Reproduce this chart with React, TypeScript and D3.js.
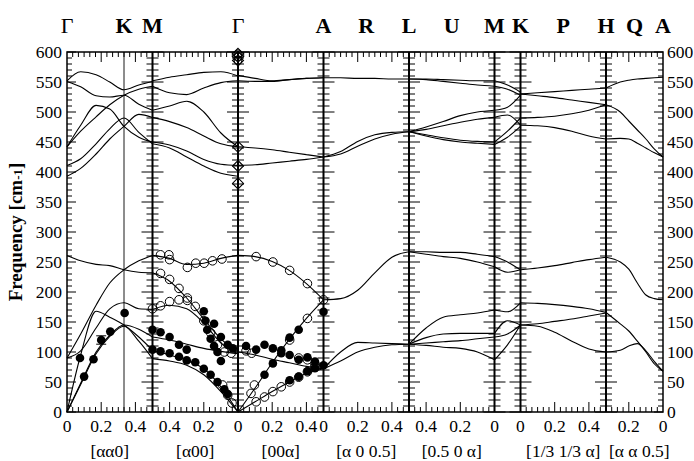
import React from "react";
import * as d3 from "d3";

const W = 694, H = 461;
const LEFT = 67, RIGHT = 663, TOP = 52, BOTTOM = 412;
const FONT = "Liberation Serif";

// path segments: span in axis units, alpha at left and right edge
const panelSpan = [0.5, 0.5, 0.5, 0.5, 0.5, 0.152, 0.5, 1 / 3];
const panelFrom = [0, 0.5, 0, 0, 0.5, 0, 0, 1 / 3];
const panelTo = [0.5, 0, 0.5, 0.5, 0, 1, 0.5, 0];

// high-symmetry labels (panel, alpha)
const symLabels = ["Γ", "K", "M", "Γ", "A", "R", "L", "U", "M", "K", "P", "H", "Q", "A"];
const symPos = [[0, 0], [0, 1 / 3], [1, 0.5], [2, 0], [3, 0], [3, 0.25], [4, 0.5], [4, 0.25], [5, 0], [6, 0], [6, 0.25], [7, 1 / 3], [7, 1 / 6], [7, 0]];

const qTickLabels = ["0", "0.2", "0.4", "0.4", "0.2", "0", "0.2", "0.4", "0", "0.2", "0.4", "0.4", "0.2", "0", "0", "0.2", "0.4", "0.2", "0"];
const qTickPos = [[0, 0], [0, 0.2], [0, 0.4], [1, 0.4], [1, 0.2], [1, 0], [2, 0.2], [2, 0.4], [3, 0], [3, 0.2], [3, 0.4], [4, 0.4], [4, 0.2], [4, 0], [6, 0], [6, 0.2], [6, 0.4], [7, 0.2], [7, 0]];

const dirLabels = ["[αα0]", "[α00]", "[00α]", "[α 0 0.5]", "[0.5 0 α]", "[1/3 1/3 α]", "[α α 0.5]"];
const dirPanels = [0, 1, 2, 3, 4, 6, 7];

const freqTicks = d3.range(0, 601, 50);

// calculated dispersion, frequency [cm-1] at grid points of each panel
const gkmGrid = [0, 0.08, 0.17, 0.25, 1 / 3, 0.42, 0.5];
const gkmBranches = [
  [552, 567, 562, 550, 537, 545, 551],
  [551, 542, 527, 525, 528, 513, 503],
  [442, 468, 492, 512, 528, 538, 543],
  [442, 478, 511, 505, 476, 458, 450],
  [411, 422, 447, 472, 490, 466, 447],
  [393, 406, 430, 455, 476, 496, 491],
  [261, 252, 246, 244, 237, 233, 232],
  [90, 130, 178, 215, 237, 252, 261],
  [90, 102, 140, 172, 182, 172, 171],
  [0, 95, 168, 158, 145, 125, 103],
  [0, 48, 100, 128, 145, 138, 125],
  [0, 46, 97, 126, 143, 118, 89],
];

const mgGrid = [0.5, 0.4, 0.3, 0.2, 0.1, 0];
const mgBranches = [
  [552, 558, 562, 566, 567, 560],
  [543, 532, 529, 540, 549, 552],
  [503, 510, 518, 500, 465, 442],
  [491, 484, 474, 460, 447, 442],
  [450, 445, 435, 421, 413, 411],
  [447, 440, 425, 410, 398, 393],
  [261, 256, 246, 248, 256, 261],
  [232, 218, 190, 155, 122, 100],
  [171, 178, 172, 148, 115, 97],
  [125, 120, 113, 106, 101, 97],
  [103, 95, 86, 72, 42, 0],
  [89, 85, 78, 62, 34, 0],
];

const gaGrid = [0, 0.1, 0.2, 0.3, 0.4, 0.5];
const gaBranches = [
  [561, 556, 552, 554, 556, 557],
  [552, 551, 551, 554, 556, 557],
  [442, 440, 437, 433, 429, 425],
  [411, 412, 415, 418, 421, 425],
  [261, 259, 251, 236, 214, 187],
  [0, 40, 82, 121, 156, 187],
  [100, 95, 88, 82, 76, 72],
  [0, 17, 34, 50, 64, 72],
];

const alGrid = [0, 0.1, 0.2, 0.3, 0.4, 0.5];
const alBranches = [
  [557, 557, 556, 556, 555, 555],
  [425, 434, 451, 462, 466, 467],
  [425, 430, 443, 455, 463, 467],
  [187, 189, 203, 232, 258, 267],
  [72, 100, 116, 115, 114, 113],
  [72, 85, 100, 108, 112, 113],
];

const lmGrid = [0.5, 0.4, 0.3, 0.2, 0.1, 0];
const lmBranches = [
  [555, 555, 554, 553, 552, 552],
  [555, 554, 551, 548, 545, 543],
  [467, 475, 484, 494, 500, 503],
  [467, 471, 477, 483, 488, 491],
  [467, 462, 457, 453, 451, 450],
  [467, 460, 454, 450, 448, 446],
  [267, 267, 266, 266, 263, 259],
  [267, 263, 259, 256, 250, 242],
  [113, 140, 158, 162, 165, 170],
  [113, 124, 130, 131, 131, 131],
  [113, 115, 117, 119, 122, 125],
  [113, 111, 108, 106, 100, 87],
];

const mkGrid = [0, 0.5, 1];
const mkBranches = [
  [552, 545, 533],
  [543, 538, 528],
  [503, 508, 528],
  [491, 495, 478],
  [450, 468, 490],
  [446, 458, 476],
  [259, 250, 237],
  [242, 233, 237],
  [170, 167, 182],
  [131, 152, 145],
  [125, 130, 145],
  [87, 112, 145],
];

const khGrid = [0, 0.1, 0.2, 0.3, 0.4, 0.5];
const khBranches = [
  [530, 532, 534, 536, 538, 540],
  [530, 527, 524, 520, 516, 512],
  [490, 491, 493, 497, 503, 512],
  [478, 477, 474, 468, 460, 455],
  [237, 240, 244, 249, 254, 258],
  [182, 181, 179, 176, 172, 166],
  [145, 147, 151, 155, 160, 165],
  [145, 143, 133, 118, 105, 100],
];

const haGrid = [1 / 3, 0.25, 0.2, 0.15, 0.1, 0.05, 0];
const haBranches = [
  [540, 550, 553, 555, 556, 557, 558],
  [512, 500, 485, 470, 455, 438, 425],
  [455, 456, 455, 448, 440, 432, 425],
  [258, 250, 238, 215, 195, 189, 187],
  [166, 147, 135, 118, 100, 80, 68],
  [100, 103, 110, 114, 102, 84, 68],
];

const panelGrids = [gkmGrid, mgGrid, gaGrid, alGrid, lmGrid, mkGrid, khGrid, haGrid];
const panelBranches = [gkmBranches, mgBranches, gaBranches, alBranches, lmBranches, mkBranches, khBranches, haBranches];

// measured points [alpha, freq]
const filledGKM = [[0.076, 90], [0.1, 59], [0.155, 88], [0.2, 120], [0.253, 134], [0.337, 165]];
const errorGKM = [[0.2, 120, 7]];
const filledMG = [
  [0.5, 137], [0.453, 133], [0.4, 125], [0.345, 112], [0.3, 104],
  [0.5, 104], [0.453, 101], [0.4, 98], [0.345, 92], [0.3, 86], [0.25, 83],
  [0.2, 168], [0.19, 152], [0.18, 137], [0.16, 122], [0.14, 110], [0.12, 100], [0.1, 85],
  [0.14, 147], [0.1, 125], [0.06, 112], [0.03, 106],
  [0.2, 72], [0.16, 62], [0.12, 50], [0.08, 38], [0.06, 30],
];
const openMG = [
  [0.453, 262], [0.404, 262], [0.4, 254], [0.296, 241], [0.247, 248], [0.198, 248], [0.149, 252], [0.094, 255],
  [0.453, 231], [0.4, 221], [0.345, 206], [0.296, 190], [0.25, 176],
  [0.5, 172], [0.453, 177], [0.4, 184], [0.345, 187], [0.296, 186], [0.2, 152], [0.16, 132], [0.12, 112], [0.08, 100], [0.04, 98],
  [0.09, 45], [0.06, 28], [0.035, 15],
];
const filledGA = [
  [0.155, 62], [0.204, 81], [0.253, 103], [0.302, 124], [0.355, 137], [0.5, 167],
  [0.302, 53], [0.355, 59], [0.406, 68], [0.45, 73], [0.45, 84], [0.5, 78],
  [0.047, 110], [0.106, 104], [0.155, 112], [0.204, 106], [0.253, 98], [0.302, 95], [0.355, 87], [0.406, 91],
];
const openGA = [
  [0.106, 259], [0.204, 250], [0.302, 236], [0.406, 214], [0.5, 187],
  [0.076, 31], [0.096, 45], [0.302, 120], [0.406, 156],
  [0.106, 17], [0.155, 25], [0.204, 34], [0.253, 42], [0.302, 50], [0.355, 58], [0.406, 67], [0.45, 75],
  [0.047, 102], [0.08, 98], [0.355, 90], [0.406, 87], [0.45, 80],
];
const gammaModes = [597, 592, 586, 442, 410, 381];

const cum = [0];
panelSpan.forEach((s, i) => cum.push(cum[i] + s));
const x = d3.scaleLinear().domain([0, cum[cum.length - 1]]).range([LEFT, RIGHT]);
const y = d3.scaleLinear().domain([0, 600]).range([BOTTOM, TOP]);
const px = (p: number, a: number) =>
  x(cum[p] + (panelSpan[p] * (a - panelFrom[p])) / (panelTo[p] - panelFrom[p]));

const line = d3.line<[number, number]>().curve(d3.curveMonotoneX);

export default function App() {
  const curves: string[] = [];
  panelBranches.forEach((branches, p) => {
    branches.forEach((vals) => {
      const pts = vals.map((f, i) => [px(p, panelGrids[p][i]), y(f)] as [number, number]);
      curves.push(line(pts) as string);
    });
  });

  // q ticks on top and bottom
  const qTicks: { x: number; major: boolean }[] = [];
  [0, 1, 2, 3, 4, 6, 7].forEach((p) => {
    const lo = Math.min(panelFrom[p], panelTo[p]);
    const hi = Math.max(panelFrom[p], panelTo[p]);
    for (let k = 1; k * (0.2 / 6) < hi - 1e-6; k++) {
      const a = k * (0.2 / 6);
      if (a <= lo + 1e-6) continue;
      qTicks.push({ x: px(p, a), major: k % 6 === 0 });
    }
  });
  const yMinor = d3.range(0, 601, 10);
  const innerBounds = [1, 2, 3, 4, 5, 6, 7].map((p) => x(cum[p]));

  const pts = (p: number, arr: number[][]) => arr.map(([a, f]) => [px(p, a), y(f)]);
  const filled = [...pts(0, filledGKM), ...pts(1, filledMG), ...pts(2, filledGA)];
  const open = [...pts(1, openMG), ...pts(2, openGA)];
  const gx = x(cum[2]);

  return (
    <svg width={W} height={H} style={{ position: "absolute", left: 0, top: 0, background: "#fff" }}>
      {/* K vertical guide */}
      <line x1={px(0, 1 / 3)} x2={px(0, 1 / 3)} y1={TOP} y2={BOTTOM} stroke="#000" strokeWidth={0.9} />
      {/* inner boundaries with ticks on both sides */}
      {innerBounds.map((bx, i) => (
        <g key={"b" + i}>
          <line x1={bx} x2={bx} y1={TOP} y2={BOTTOM} stroke="#000" strokeWidth={2} />
          {yMinor.map((f) => {
            const len = f % 50 === 0 ? 11 : 6;
            return <line key={f} x1={bx - len} x2={bx + len} y1={y(f)} y2={y(f)} stroke="#000" strokeWidth={1} />;
          })}
        </g>
      ))}
      {/* left and right axis ticks */}
      {yMinor.map((f) => {
        const len = f % 50 === 0 ? 9 : 5;
        return (
          <g key={"y" + f}>
            <line x1={LEFT} x2={LEFT + len} y1={y(f)} y2={y(f)} stroke="#000" strokeWidth={1} />
            <line x1={RIGHT - len} x2={RIGHT} y1={y(f)} y2={y(f)} stroke="#000" strokeWidth={1} />
          </g>
        );
      })}
      {qTicks.map((t, i) => {
        const len = t.major ? 10 : 5;
        return (
          <g key={"q" + i}>
            <line x1={t.x} x2={t.x} y1={TOP} y2={TOP + len} stroke="#000" strokeWidth={1} />
            <line x1={t.x} x2={t.x} y1={BOTTOM - len} y2={BOTTOM} stroke="#000" strokeWidth={1} />
          </g>
        );
      })}
      <rect x={LEFT} y={TOP} width={RIGHT - LEFT} height={BOTTOM - TOP} fill="none" stroke="#000" strokeWidth={1.5} />

      {/* dispersion curves */}
      {curves.map((d, i) => (
        <path key={"c" + i} d={d} fill="none" stroke="#000" strokeWidth={1.1} />
      ))}

      {/* measured points */}
      {errorGKM.map(([a, f, e], i) => {
        const cx = px(0, a);
        return (
          <g key={"e" + i} stroke="#000" strokeWidth={1}>
            <line x1={cx} x2={cx} y1={y(f - e)} y2={y(f + e)} />
            <line x1={cx - 5} x2={cx + 5} y1={y(f - e)} y2={y(f - e)} />
            <line x1={cx - 5} x2={cx + 5} y1={y(f + e)} y2={y(f + e)} />
          </g>
        );
      })}
      {open.map(([cx, cy], i) => (
        <circle key={"o" + i} cx={cx} cy={cy} r={4.3} fill="none" stroke="#000" strokeWidth={1} />
      ))}
      {filled.map(([cx, cy], i) => (
        <circle key={"f" + i} cx={cx} cy={cy} r={4.3} fill="#000" />
      ))}
      {gammaModes.map((f, i) => {
        const cy = y(f);
        return (
          <g key={"g" + i} fill="none" stroke="#000" strokeWidth={1.1}>
            <path d={`M${gx},${cy - 5.5}L${gx + 5.5},${cy}L${gx},${cy + 5.5}L${gx - 5.5},${cy}Z`} />
            {f > 580 && <circle cx={gx} cy={cy} r={3.8} />}
          </g>
        );
      })}

      {/* y labels */}
      {freqTicks.map((f) => (
        <g key={"yl" + f}>
          <text x={LEFT - 5} y={y(f)} dy="0.35em" textAnchor="end" fontFamily={FONT} fontSize={17.5}>{f}</text>
          <text x={RIGHT + 4} y={y(f)} dy="0.35em" textAnchor="start" fontFamily={FONT} fontSize={17.5}>{f}</text>
        </g>
      ))}
      {/* q labels */}
      {qTickLabels.map((t, i) => (
        <text key={"ql" + i} x={px(qTickPos[i][0], qTickPos[i][1])} y={432} textAnchor="middle" fontFamily={FONT} fontSize={17.5}>{t}</text>
      ))}
      {dirLabels.map((t, i) => {
        const p = dirPanels[i];
        const last = i === dirLabels.length - 1;
        return (
          <text key={"d" + i} x={last ? x(cum[p]) + 3 : x(cum[p] + panelSpan[p] / 2)} y={457} textAnchor={last ? "start" : "middle"} fontFamily={FONT} fontSize={17.5}>{t}</text>
        );
      })}
      {/* symmetry points */}
      {symLabels.map((t, i) => (
        <text key={"s" + i} x={px(symPos[i][0], symPos[i][1])} y={33} textAnchor="middle" fontFamily={FONT} fontSize={22} fontWeight={t === "Γ" ? "normal" : "bold"}>{t}</text>
      ))}
      <text transform={`translate(22,${(TOP + BOTTOM) / 2}) rotate(-90)`} textAnchor="middle" fontFamily={FONT} fontSize={19} fontWeight="bold">
        Frequency [cm<tspan fontSize={13}>-1</tspan>]
      </text>
    </svg>
  );
}
